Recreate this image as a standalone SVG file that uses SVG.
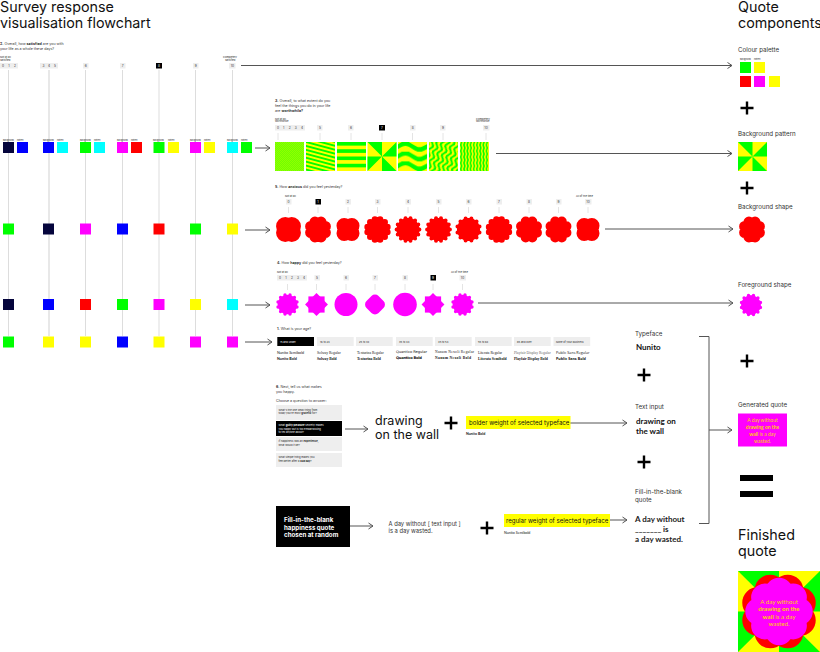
<svg xmlns="http://www.w3.org/2000/svg" xmlns:xlink="http://www.w3.org/1999/xlink" width="820" height="652" viewBox="0 0 820 652">
<style>
text{font-family:Inter,"Liberation Sans",sans-serif;fill:#111}
.h{font-size:14.3px;fill:#111}
.l{font-size:6.2px;fill:#333}
.t{font-size:3.6px;fill:#333}
.m{font-size:2.6px;fill:#222}
.m2{font-size:1.9px;fill:#222}
.n{font-size:3.2px;fill:#333;text-anchor:middle}
.w{fill:#fff}
.c{fill:#eee}
.k{fill:#000}
.b{font-weight:700}
.v{stroke:#ddd;stroke-width:1;fill:none}
.a{stroke:#555;stroke-width:1;fill:none}
.f{font-family:Lato,"Noto Sans",sans-serif;font-weight:700}
.g{stroke:#ddd;stroke-width:.8}
.p{stroke:#000;stroke-width:2.4;fill:none}
.r{fill:#f00}
.q{fill:#f0f}
.G{fill:#0f0}
.Y{fill:#ff0}
.B{fill:#00f}
.C{fill:#0ff}
.N{fill:#05053c}
.sr{fill:#f00;stroke:#f00}
.sq{fill:#f0f;stroke:#f0f}
.d{stroke-linecap:round;stroke-dasharray:0 1}
.o{stroke-dashoffset:.5}
.y{fill:#ffd000}
.yl{fill:#ffd000;font-family:Lato,"Noto Sans",sans-serif}
.lt{font-family:Lato,"Noto Sans",sans-serif}
.sf{font-family:"Liberation Serif",serif}
.fs{font-size:3.7px}
</style>
<defs>
<marker id="ah" markerWidth="8" markerHeight="8" refX="6" refY="4" orient="auto" markerUnits="userSpaceOnUse"><path d="M1.5 1 L6 4 L1.5 7" fill="none" stroke="#555" stroke-width="1"/></marker>
<pattern id="p0" width="2" height="2" patternUnits="userSpaceOnUse"><rect width="2" height="2" fill="#70ff00"/><rect width="1" height="1" fill="#90ff00"/><rect x="1" y="1" width="1" height="1" fill="#90ff00"/></pattern>
<pattern id="p1" width="30" height="3.8" patternUnits="userSpaceOnUse" patternTransform="rotate(15)"><rect width="30" height="3.8" fill="#ff0"/><rect width="30" height="1.9" fill="#0f0"/></pattern>
<pattern id="p2" width="30" height="7.25" patternUnits="userSpaceOnUse" y="142"><rect width="30" height="7.25" fill="#ff0"/><rect width="30" height="3.6" fill="#0f0"/></pattern>
<pattern id="p4" width="29" height="9.7" patternUnits="userSpaceOnUse" x="398" y="142"><rect width="29" height="9.7" fill="#ff0"/><path d="M0 2.2 C7 -2 8 -2 14.5 2.2 S22 6 29 2.2 V7 C22 11 21 11 14.5 7 S7 3 0 7Z" fill="#0f0"/></pattern>
<pattern id="p5" width="4.8" height="10" patternUnits="userSpaceOnUse" x="429" y="142" patternTransform="rotate(20)"><rect width="4.8" height="10" fill="#ff0"/><path d="M1.2 0 C-.8 2.5 -.8 2.5 1.2 5 S3.2 7.5 1.2 10 H3.6 C5.6 7.500 5.6 7.500 3.6 5 S1.6 2.500 3.6 0Z" fill="#0f0"/></pattern>
<pattern id="p6" width="3.2" height="6" patternUnits="userSpaceOnUse" x="460" y="142"><rect width="3.2" height="6" fill="#ff0"/><path d="M.8 0 L0 3 L.8 6 H2.4 L1.6 3 L2.4 0Z" fill="#0f0"/></pattern>
<circle id="s4" r="4.6" stroke-width="18.4" pathLength="4" class="d o"/>
<circle id="s4b" r="5.4" stroke-width="15.4" pathLength="4" class="d o"/>
<circle id="s8" r="8" stroke-width="11" pathLength="8" class="d o"/>
<circle id="s8n" r="8" stroke-width="11" pathLength="8" class="d"/>
<circle id="s8b" r="8.6" stroke-width="10" pathLength="8" class="d o"/>
<circle id="s12" r="10.3" stroke-width="6.4" pathLength="12" class="d o"/>
<g id="s14"><circle r="11.4" stroke="none"/><circle r="11.4" stroke-width="4" pathLength="14" class="d"/></g>
<g id="s12s"><circle r="11.4" stroke="none"/><circle r="11.400" stroke-width="4" pathLength="12" class="d o"/></g>
<g id="f12"><circle r="9.6" stroke="none"/><circle r="9.8" stroke-width="3.4" pathLength="12" class="d o"/></g>
<rect id="rr" x="-8.1" y="-8.1" width="16.2" height="16.2" stroke="none"/>
<g id="f8"><use xlink:href="#rr"/><use xlink:href="#rr" transform="rotate(45)"/></g>
<path id="plus" d="M-6.5 0H6.5M0 -6.5V6.5" class="p"/>
</defs>
<rect width="820" height="652" fill="#fff"/>

<g id="connectors">
<path class="v" d="M8.5 70V336M85.500 70V336M122.500 70V336M159 70V336M195.500 70V336M232.500 70V336"/>
<path d="M49 70V336" stroke="#e8e8e8" stroke-width="2" fill="none"/>
<path class="a" marker-end="url(#ah)" d="M241 65.500H732"/>
<path class="a" marker-end="url(#ah)" d="M255 148H270"/>
<path class="a" marker-end="url(#ah)" d="M496 153.500H732"/>
<path class="a" marker-end="url(#ah)" d="M245 230H270"/>
<path class="a" marker-end="url(#ah)" d="M605 229H733"/>
<path class="a" marker-end="url(#ah)" d="M245 305H270"/>
<path class="a" marker-end="url(#ah)" d="M478 303H733"/>
<path class="a" marker-end="url(#ah)" d="M245 342H272"/>
<path class="a" marker-end="url(#ah)" d="M345 429H368"/>
<path class="a" marker-end="url(#ah)" d="M570 423H627"/>
<path class="a" marker-end="url(#ah)" d="M350 526H373"/>
<path class="a" marker-end="url(#ah)" d="M610 520H627"/>
<path class="a" d="M699 336.500H709V523.500H699"/>
<path class="a" marker-end="url(#ah)" d="M709 430H732"/>
</g>

<g id="title"><text class="h" x="0" y="11.500">Survey response</text><text class="h" x="0" y="28">visualisation flowchart</text></g>
<g id="quote-title"><text class="h" x="738" y="11.500">Quote</text><text class="h" x="738" y="28">components</text></g>

<g id="q2">
<text class="t" x="0" y="45"><tspan class="b">2.</tspan> Overall, how <tspan class="b">satisfied</tspan> are you with</text>
<text class="t" x="0" y="50">your life as a whole these days?</text>
<text class="m" x="0" y="58">Not at all</text><text class="m" x="0" y="61">satisfied</text>
<text class="m" x="223" y="58">Completely</text><text class="m" x="225" y="61">satisfied</text>
<rect class="c" x="0" y="63" width="18" height="5.500"/>
<rect class="c" x="40" y="63" width="18" height="5.500"/>
<rect class="c" x="83" y="63" width="5.500" height="5.500"/>
<rect class="c" x="120" y="63" width="5.500" height="5.500"/>
<rect class="k" x="156" y="63" width="6" height="5.500"/>
<rect class="c" x="193" y="63" width="5.500" height="5.500"/>
<rect class="c" x="229" y="63" width="6.500" height="5.500"/>
<text class="n" y="67" x="3">0</text><text class="n" y="67" x="9">1</text><text class="n" y="67" x="15">2</text>
<text class="n" y="67" x="43.500">3</text><text class="n" y="67" x="49">4</text><text class="n" y="67" x="55">5</text>
<text class="n" y="67" x="85.700">6</text><text class="n" y="67" x="122.700">7</text><text class="n w" y="67" x="159">8</text><text class="n" y="67" x="195.700">9</text><text class="n" y="67" x="232.300">10</text>
</g>

<g id="row1">
<text class="m2" x="3" y="140.500">Background</text><text class="m2" x="17" y="140.500">Pattern</text>
<text class="m2" x="43" y="140.500">Background</text><text class="m2" x="57" y="140.500">Pattern</text>
<text class="m2" x="80" y="140.500">Background</text><text class="m2" x="94" y="140.500">Pattern</text>
<text class="m2" x="117" y="140.500">Background</text><text class="m2" x="131" y="140.500">Pattern</text>
<text class="m2" x="153" y="140.500">Background</text><text class="m2" x="168" y="140.500">Pattern</text>
<text class="m2" x="190" y="140.500">Background</text><text class="m2" x="204" y="140.500">Pattern</text>
<text class="m2" x="227" y="140.500">Background</text><text class="m2" x="241" y="140.500">Pattern</text>
<rect class="N" x="3" y="142" width="11" height="11"/><rect class="B" x="17" y="142" width="11" height="11"/>
<rect class="B" x="43" y="142" width="11" height="11"/><rect class="C" x="57" y="142" width="11" height="11"/>
<rect class="G" x="80" y="142" width="11" height="11"/><rect class="C" x="94" y="142" width="11" height="11"/>
<rect class="q" x="117" y="142" width="11" height="11"/><rect class="r" x="131" y="142" width="11" height="11"/>
<rect class="G" x="153.500" y="142" width="11" height="11"/><rect class="Y" x="168" y="142" width="11" height="11"/>
<rect class="q" x="190" y="142" width="11" height="11"/><rect class="Y" x="204" y="142" width="11" height="11"/>
<rect class="C" x="227" y="142" width="11" height="11"/><rect class="G" x="241" y="142" width="11" height="11"/>
</g>
<g id="row2">
<rect class="G" x="3" y="223.500" width="11" height="11"/><rect class="N" x="43" y="223.500" width="11" height="11"/><rect class="q" x="80" y="223.500" width="11" height="11"/><rect class="B" x="117" y="223.500" width="11" height="11"/><rect class="r" x="153.500" y="223.500" width="11" height="11"/><rect class="G" x="190" y="223.500" width="11" height="11"/><rect class="Y" x="227" y="223.500" width="11" height="11"/>
</g>
<g id="row3">
<rect class="N" x="3" y="299" width="11" height="11"/><rect class="B" x="43" y="299" width="11" height="11"/><rect class="r" x="80" y="299" width="11" height="11"/><rect class="G" x="117" y="299" width="11" height="11"/><rect class="q" x="153.500" y="299" width="11" height="11"/><rect class="Y" x="190" y="299" width="11" height="11"/><rect class="C" x="227" y="299" width="11" height="11"/>
</g>
<g id="row4">
<rect class="G" x="3" y="336.500" width="11" height="11"/><rect class="Y" x="43" y="336.500" width="11" height="11"/><rect class="Y" x="80" y="336.500" width="11" height="11"/><rect class="B" x="117" y="336.500" width="11" height="11"/><rect class="Y" x="153.500" y="336.500" width="11" height="11"/><rect class="q" x="190" y="336.500" width="11" height="11"/><rect class="q" x="227" y="336.500" width="11" height="11"/>
</g>

<g id="q3">
<text class="t" x="275" y="102"><tspan class="b">3.</tspan> Overall, to what extent do you</text>
<text class="t" x="275" y="107">feel the things you do in your life</text>
<text class="t" x="275" y="111.500">are <tspan class="b">worthwhile?</tspan></text>
<text class="m" x="275" y="119.500">Not at all</text><text class="m" x="275" y="122">worthwhile</text>
<text class="m" x="476" y="119.500">Completely</text><text class="m" x="476" y="122">worthwhile</text>
<rect class="c" x="275" y="125" width="30" height="5.500"/><rect class="c" x="317" y="125" width="5.500" height="5.500"/><rect class="c" x="348" y="125" width="5.500" height="5.500"/><rect class="k" x="379" y="125" width="6" height="5.500"/><rect class="c" x="410" y="125" width="5.500" height="5.500"/><rect class="c" x="440" y="125" width="5.500" height="5.500"/><rect class="c" x="483" y="125" width="6.500" height="5.500"/>
<text class="n" y="129" x="278">0</text><text class="n" y="129" x="283.700">1</text><text class="n" y="129" x="289.700">2</text><text class="n" y="129" x="295.700">3</text><text class="n" y="129" x="302">4</text>
<text class="n" y="129" x="320">5</text><text class="n" y="129" x="351">6</text><text class="n w" y="129" x="382">7</text><text class="n" y="129" x="412.700">8</text><text class="n" y="129" x="443">9</text><text class="n" y="129" x="486">10</text>
<path class="g" d="M278 133V140M320 133V140M351 133V140M382 133V140M412.500 133V140M443 133V140M486 133V140"/>
<rect x="275" y="142" width="29" height="29" fill="url(#p0)"/>
<rect x="306" y="142" width="29" height="29" fill="url(#p1)"/>
<rect x="337" y="142" width="29" height="29" fill="url(#p2)"/>
<g id="pin"><rect x="367.500" y="142" width="29" height="29" class="Y"/><path class="G" d="M382 142V156.500L367.500 142ZM396.500 142V156.500H382ZM382 171V156.500L396.500 171ZM367.500 171V156.500H382Z"/></g>
<rect x="398" y="142" width="29" height="29" fill="url(#p4)"/>
<rect x="429" y="142" width="29" height="29" fill="url(#p5)"/>
<rect x="460" y="142" width="29" height="29" fill="url(#p6)"/>
</g>

<g id="q5">
<text class="t" x="275" y="188"><tspan class="b">5.</tspan> How <tspan class="b">anxious</tspan> did you feel yesterday?</text>
<text class="m" x="285" y="197">Not at all</text><text class="m" x="576" y="197">All of the time</text>
<rect class="c" x="286" y="199" width="5.500" height="5.500"/><rect class="k" x="315.500" y="199" width="5.500" height="5.500"/><rect class="c" x="345.500" y="199" width="5.500" height="5.500"/><rect class="c" x="375" y="199" width="5.500" height="5.500"/><rect class="c" x="405.500" y="199" width="5.500" height="5.500"/><rect class="c" x="436" y="199" width="5.500" height="5.500"/><rect class="c" x="466" y="199" width="5.500" height="5.500"/><rect class="c" x="496.500" y="199" width="5.500" height="5.500"/><rect class="c" x="526.500" y="199" width="5.500" height="5.500"/><rect class="c" x="556" y="199" width="5.500" height="5.500"/><rect class="c" x="585" y="199" width="6.500" height="5.500"/>
<text class="n" y="203" x="288.500">0</text><text class="n w" y="203" x="318">1</text><text class="n" y="203" x="348">2</text><text class="n" y="203" x="377.500">3</text><text class="n" y="203" x="408">4</text><text class="n" y="203" x="438.500">5</text><text class="n" y="203" x="468.500">6</text><text class="n" y="203" x="499">7</text><text class="n" y="203" x="529">8</text><text class="n" y="203" x="558.500">9</text><text class="n" y="203" x="588">10</text>
<path class="g" d="M288.500 207V213M318 207V213M348 207V213M377.500 207V213M408 207V213M438.500 207V213M468.500 207V213M499 207V213M529 207V213M558.500 207V213M588 207V213"/>
<g class="sr">
<use xlink:href="#s4" x="288.500" y="229.500"/>
<use xlink:href="#s8" x="318" y="229.500"/>
<use xlink:href="#s4b" x="348" y="229.500"/>
<use xlink:href="#s12" x="377.500" y="229.500"/>
<use xlink:href="#s14" x="408" y="229.500"/>
<use xlink:href="#s14" x="438.500" y="229.500"/>
<use xlink:href="#s12s" x="468.500" y="229.500"/>
<use xlink:href="#s12" x="499" y="229.500"/>
<use xlink:href="#s8b" x="529" y="229.500"/>
<use xlink:href="#s8b" x="558.500" y="229.500"/>
<use xlink:href="#s4b" x="588" y="229.500"/>
</g>
</g>

<g id="q4">
<text class="t" x="277" y="264"><tspan class="b">4.</tspan> How <tspan class="b">happy</tspan> did you feel yesterday?</text>
<text class="m" x="277" y="273">Not at all</text><text class="m" x="451" y="273">All of the time</text>
<rect class="c" x="277" y="275" width="30" height="5.500"/><rect class="c" x="314.500" y="275" width="5.500" height="5.500"/><rect class="c" x="343.500" y="275" width="5.500" height="5.500"/><rect class="c" x="372.500" y="275" width="5.500" height="5.500"/><rect class="c" x="402.500" y="275" width="5.500" height="5.500"/><rect class="k" x="430.500" y="275" width="5.500" height="5.500"/><rect class="c" x="459.500" y="275" width="6.500" height="5.500"/>
<text class="n" y="279" x="280">0</text><text class="n" y="279" x="286">1</text><text class="n" y="279" x="292">2</text><text class="n" y="279" x="298">3</text><text class="n" y="279" x="304">4</text>
<text class="n" y="279" x="317">5</text><text class="n" y="279" x="346">6</text><text class="n" y="279" x="375">7</text><text class="n" y="279" x="405">8</text><text class="n w" y="279" x="433">9</text><text class="n" y="279" x="462.500">10</text>
<path class="g" d="M287.500 284V290M316.500 284V290M346 284V290M375 284V290M405 284V290M433 284V290M462.500 284V290"/>
<g class="sq">
<use xlink:href="#f12" x="287.500" y="304.500"/>
<use xlink:href="#f8" x="316.500" y="304.500"/>
<circle cx="346" cy="304.500" r="11.500" stroke="none"/>
<rect x="366.500" y="296" width="17" height="17" rx="5" transform="rotate(45 375 304.500)" stroke="none"/>
<circle cx="405" cy="304.500" r="11.800" stroke="none"/>
<use xlink:href="#f8" x="433" y="304.500"/>
<use xlink:href="#f12" x="462.500" y="304.500"/>
</g>
</g>

<g id="q1">
<text class="t" x="277" y="330"><tspan class="b">1.</tspan> What is your age?</text>
<rect class="k" x="277.300" y="337" width="36.700" height="9"/>
<rect class="c" x="317" y="337" width="36.700" height="9"/><rect class="c" x="356" y="337" width="36.700" height="9"/><rect class="c" x="396" y="337" width="36.700" height="9"/><rect class="c" x="435" y="337" width="36.700" height="9"/><rect class="c" x="475" y="337" width="36.700" height="9"/><rect class="c" x="514" y="337" width="36.700" height="9"/><rect class="c" x="553.500" y="337" width="36.700" height="9"/>
<text class="m w" x="280" y="342.500">15 and under</text><text class="m" x="320" y="342.500">16 to 24</text><text class="m" x="359" y="342.500">25 to 34</text><text class="m" x="399" y="342.500">35 to 44</text><text class="m" x="438" y="342.500">45 to 54</text><text class="m" x="478" y="342.500">55 to 64</text><text class="m" x="517" y="342.500">65 and over</text><text class="m" x="556" y="342.500">None of your business</text>
<text class="fs lt" x="277" y="353.500">Nunito Semibold</text><text class="fs f" x="277" y="359.500">Nunito Bold</text>
<text class="fs sf" x="317" y="353.500">Solway Regular</text><text class="fs sf b" x="317" y="359.500">Solway Bold</text>
<text class="fs sf" x="357" y="353.500">Texturina Regular</text><text class="fs sf b" x="357" y="359.500">Texturina Bold</text>
<text class="fs" style="font-family:'DejaVu Sans'" x="396" y="353" textLength="31">Quantico Regular</text><text class="fs b" style="font-family:'DejaVu Sans'" x="396" y="359" textLength="26">Quantico Bold</text>
<text class="fs sf" x="435" y="353" textLength="39">Nanum Nexoli Regular</text><text class="fs sf b" x="435" y="359" textLength="36">Nanum Nexoli Bold</text>
<text class="fs sf" x="478" y="353.500">Literata Regular</text><text class="fs sf b" x="478" y="359.500">Literata Semibold</text>
<text class="fs sf" style="fill:#666" x="514" y="353.500">Playfair Display Regular</text><text class="fs sf b" x="514" y="359.500">Playfair Display Bold</text>
<text class="fs" style="font-family:'Open Sans'" x="556" y="353.500">Public Sans Regular</text><text class="fs b" style="font-family:'Open Sans'" x="556" y="359.500">Public Sans Bold</text>
</g>

<g id="q6">
<text class="t" x="276" y="388"><tspan class="b">6.</tspan> Next, tell us what makes</text>
<text class="t" x="276" y="393">you happy.</text>
<text class="t" x="276" y="401.500">Choose a question to answer:</text>
<rect class="c" x="276" y="405" width="66" height="15"/><rect class="k" x="276" y="421" width="66" height="15"/><rect class="c" x="276" y="437" width="66" height="14"/><rect class="c" x="276" y="453" width="66" height="14"/>
<text class="m" x="278.500" y="410.500">What's the one small thing from</text><text class="m" x="278.500" y="414">today you're most <tspan class="b">grateful</tspan> for?</text>
<text class="m w" x="278.500" y="426">What <tspan class="b">guilty pleasure</tspan> secretly makes</text><text class="m w" x="278.500" y="429.500">you happy but is too embarrassing</text><text class="m w" x="278.500" y="433">to tell anyone about?</text>
<text class="m" x="278.500" y="442">If happiness was an <tspan class="b">experience</tspan>,</text><text class="m" x="278.500" y="445.500">what would it be?</text>
<text class="m" x="278.500" y="458">What simple thing makes you</text><text class="m" x="278.500" y="461.500">feel better after a <tspan class="b">bad day</tspan>?</text>
</g>

<g id="text-input"><text x="375" y="424.500" font-size="12.500">drawing</text><text x="375" y="439" font-size="12.500">on the wall</text></g>
<use id="plus-1" xlink:href="#plus" x="451" y="423"/>
<g id="bolder"><rect class="Y" x="466" y="416" width="104.500" height="13"/><text x="469" y="424.500" font-size="6.100">bolder weight of selected typeface</text><text x="466" y="435" class="f" font-size="3.600">Nunito Bold</text></g>

<g id="fill-box"><rect class="k" x="276" y="506" width="74" height="41"/>
<text class="w b" x="284" y="522" font-size="6.200">Fill-in-the-blank</text><text class="w b" x="284" y="529.500" font-size="6.200">happiness quote</text><text class="w b" x="284" y="537" font-size="6.200">chosen at random</text></g>
<g id="template"><text x="388.500" y="525.500" font-size="5.800" style="fill:#333">A day without [ text input ]</text><text x="388.500" y="533" font-size="5.800" style="fill:#333">is a day wasted.</text></g>
<use id="plus-2" xlink:href="#plus" x="487" y="528"/>
<g id="regular"><rect class="Y" x="504" y="514" width="106" height="13"/><text x="506" y="522.500" font-size="6.100">regular weight of selected typeface</text><text x="504" y="534" class="lt" font-size="3.600">Nunito Semibold</text></g>

<g id="typeface"><text class="l" x="635" y="336">Typeface</text><text class="f" x="636" y="350" font-size="8">Nunito</text></g>
<use id="plus-3" xlink:href="#plus" x="644" y="375"/>
<g id="text-input-2"><text class="l" x="635" y="409">Text input</text><text class="f" x="636" y="424" font-size="8">drawing on</text><text class="f" x="636" y="434" font-size="8">the wall</text></g>
<use id="plus-4" xlink:href="#plus" x="644" y="462"/>
<g id="fill-2"><text class="l" x="635" y="494">Fill-in-the-blank</text><text class="l" x="635" y="501.500">quote</text>
<text class="f" x="635" y="522" font-size="8" style="fill:#222">A day without</text><text class="f" x="635" y="532" font-size="8" style="fill:#222">_______ is</text><text class="f" x="635" y="542" font-size="8" style="fill:#222">a day wasted.</text></g>

<g id="palette"><text class="l" x="738" y="52">Colour palette</text>
<text class="m2" x="740" y="60">Background</text><text class="m2" x="754" y="60">Pattern</text>
<rect class="G" x="740" y="62" width="11" height="11"/><rect class="Y" x="754" y="62" width="11" height="11"/><rect class="r" x="740" y="76" width="11" height="11"/><rect class="q" x="754" y="76" width="11" height="11"/><rect class="Y" x="769" y="76" width="11" height="11"/></g>
<use id="plus-5" xlink:href="#plus" x="747" y="108"/>
<g id="bg-pattern"><text class="l" x="738" y="136">Background pattern</text><rect x="738" y="142" width="29" height="29" class="Y"/><path class="G" d="M752.500 142V156.500L738 142ZM767 142V156.500H752.500ZM752.500 171V156.500L767 171ZM738 171V156.500H752.500Z"/></g>
<use id="plus-6" xlink:href="#plus" x="747" y="188"/>
<g id="bg-shape"><text class="l" x="738" y="209">Background shape</text><g class="sr"><use xlink:href="#s8" x="752" y="229.500"/></g></g>
<g id="fg-shape"><text class="l" x="738" y="287">Foreground shape</text><g class="sq"><use xlink:href="#f12" x="751" y="305"/></g></g>
<use id="plus-7" xlink:href="#plus" x="747" y="361"/>
<g id="generated"><text class="l" x="738" y="407">Generated quote</text><rect class="q" x="738" y="413.500" width="49" height="33"/>
<g text-anchor="middle" font-size="5"><text x="762.500" y="422" class="yl">A day without</text><text x="762.500" y="429" class="f y">drawing on the</text><text x="762.500" y="436" class="yl"><tspan class="f">wall</tspan> is a day</text><text x="762.500" y="443" class="yl">wasted.</text></g></g>
<g id="equals"><rect class="k" x="740" y="475" width="33" height="6"/><rect class="k" x="740" y="491" width="33" height="6"/></g>
<g id="finished"><text class="h" x="738" y="540">Finished</text><text class="h" x="738" y="556">quote</text>
<rect x="738" y="571" width="82" height="81" class="Y"/>
<path class="G" d="M779 571V611.500L738 571ZM820 571V611.500H779ZM779 652V611.500L820 652ZM738 652V611.500H779Z"/>
<g class="sr" transform="translate(779 611.500) scale(2.850)"><use xlink:href="#s8"/></g>
<g class="sq" transform="translate(779 611.500) scale(2.500)"><use xlink:href="#s8n"/></g>
<g text-anchor="middle" font-size="6.200"><text x="779" y="603.500" class="yl">A day without</text><text x="779" y="611" class="f y">drawing on the</text><text x="779" y="618.500" class="yl"><tspan class="f">wall</tspan> is a day</text><text x="779" y="626" class="yl">wasted.</text></g>
</g>
</svg>
